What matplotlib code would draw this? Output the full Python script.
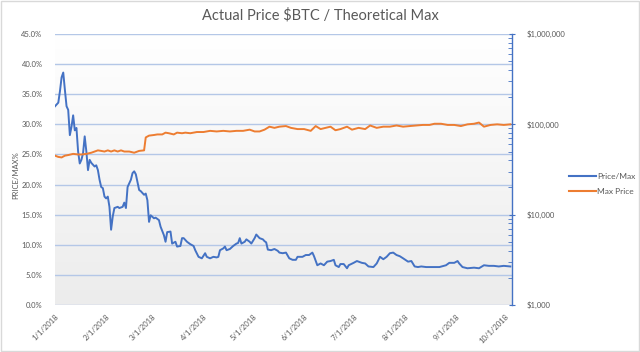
import numpy as np
import matplotlib
matplotlib.use("Agg")
import matplotlib.pyplot as plt
import matplotlib.dates as mdates
from matplotlib.ticker import FuncFormatter, FixedLocator, LogLocator, NullFormatter
from matplotlib.colors import LinearSegmentedColormap
from matplotlib.lines import Line2D

plt.rcParams['font.family'] = ['Lato', 'DejaVu Sans']

# ---- data (day offsets from 2018-01-01) ----
ratio_days = [0, 2, 3, 4, 5, 6, 7, 8, 9, 10, 11, 12, 13, 14, 15, 16, 17, 18, 19, 20, 21, 22, 24, 25, 26, 27,
              28, 29, 30, 31, 32, 33, 34, 35, 36, 38, 39, 41, 42, 43, 44, 46, 47, 48, 49, 51, 52, 54, 55, 56,
              57, 58, 60, 61, 63, 64, 66, 67, 68, 70, 71, 73, 74, 76, 77, 78, 80, 82, 84, 85, 87, 89, 91, 92,
              94, 96, 98, 99, 100, 102, 103, 104, 106, 108, 110, 111, 112, 113, 115, 116, 118, 119, 121, 122,
              124, 126, 127, 128, 129, 131, 133, 135, 136, 138, 140, 142, 144, 146, 147, 150, 152, 154, 156,
              157, 159, 161, 163, 165, 167, 169, 170, 172, 173, 175, 177, 178, 181, 183, 186, 188, 190, 193,
              195, 197, 199, 201, 203, 205, 207, 209, 211, 214, 216, 218, 220, 222, 225, 229, 233, 237, 239,
              242, 244, 245, 247, 250, 254, 257, 260, 263, 266, 269, 272, 276]
ratio_pct = [33.0, 33.6, 35.5, 37.8, 38.6, 35.7, 33.0, 32.4, 28.2, 29.6, 31.5, 29.0, 29.4, 25.5, 23.5, 24.1,
             25.2, 28.0, 25.5, 22.4, 24.1, 23.6, 23.0, 23.2, 22.4, 20.8, 19.6, 19.4, 18.0, 17.7, 18.0, 16.3,
             12.5, 14.7, 16.1, 16.3, 16.1, 16.3, 17.0, 16.1, 19.6, 20.8, 21.9, 22.2, 21.7, 19.1, 18.9, 18.3,
             18.5, 17.4, 13.8, 14.9, 14.4, 14.5, 14.1, 13.0, 11.6, 10.5, 12.1, 12.2, 10.2, 10.5, 9.7, 9.8,
             11.1, 11.1, 10.5, 10.1, 9.8, 9.1, 8.0, 7.75, 8.6, 8.0, 7.75, 8.0, 7.9, 8.0, 9.1, 9.4, 9.7, 9.1,
             9.3, 9.8, 10.2, 10.3, 11.1, 10.2, 10.5, 10.9, 10.5, 10.2, 11.1, 11.7, 11.1, 10.9, 10.6, 10.4,
             9.2, 9.1, 9.3, 9.0, 8.7, 8.6, 8.7, 7.75, 7.5, 7.5, 8.0, 8.0, 8.3, 8.3, 8.7, 8.1, 6.6, 6.9, 6.6,
             7.2, 7.3, 7.5, 6.6, 6.3, 6.8, 6.8, 6.1, 6.6, 7.0, 7.3, 7.0, 6.9, 6.4, 6.3, 6.9, 8.0, 7.6, 8.0,
             8.6, 8.7, 8.3, 8.1, 7.75, 7.2, 7.3, 6.4, 6.3, 6.4, 6.3, 6.3, 6.3, 6.6, 7.0, 7.0, 7.3, 6.9, 6.3,
             6.1, 6.2, 6.1, 6.6, 6.5, 6.5, 6.4, 6.5, 6.4]

max_days = [0, 2, 4, 6, 8, 11, 14, 16, 19, 22, 26, 28, 30, 32, 34, 36, 38, 40, 42, 45, 48, 51, 54, 55, 57,
            60, 62, 65, 67, 69, 72, 74, 77, 79, 82, 86, 90, 94, 98, 102, 106, 110, 114, 118, 121, 124, 127,
            130, 133, 136, 140, 143, 147, 151, 155, 158, 161, 164, 167, 170, 173, 177, 180, 184, 188, 191,
            195, 199, 203, 207, 211, 215, 219, 223, 227, 230, 234, 238, 242, 246, 250, 254, 257, 260, 264,
            268, 272, 276]
max_price = [45000, 43600, 43000, 45000, 45700, 47100, 46400, 46400, 47100, 48500, 51500, 50800, 50000,
             51500, 50000, 51500, 50000, 51500, 50000, 50000, 48500, 50800, 51500, 71600, 75000, 76200,
             77300, 77300, 80900, 79700, 77300, 80900, 79700, 80900, 79700, 82200, 82200, 84700, 83400,
             84700, 83400, 84700, 84700, 87300, 83400, 83400, 87300, 94200, 91400, 94200, 95700, 91400,
             88600, 88600, 84700, 95700, 88600, 91400, 94200, 86000, 88600, 94200, 87300, 91400, 88600,
             97100, 91400, 94200, 94200, 97100, 94200, 95700, 97100, 98500, 98500, 101500, 101500, 98500,
             98500, 95700, 100000, 101500, 104700, 94200, 98500, 100000, 98500, 100000]

month_ticks = ['2018-01-01', '2018-02-01', '2018-03-01', '2018-04-01', '2018-05-01', '2018-06-01',
               '2018-07-01', '2018-08-01', '2018-09-01', '2018-10-01']
left_ticks = [0, 5, 10, 15, 20, 25, 30, 35, 40, 45]
right_ticks = [1e3, 1e4, 1e5, 1e6]

title = "Actual Price $BTC / Theoretical Max"

# ---- build ----
start = np.datetime64('2018-01-01')
r_dates = start + np.array(ratio_days).astype('timedelta64[D]')
m_dates = start + np.array(max_days).astype('timedelta64[D]')

BLUE = '#4472C4'
ORANGE = '#ED7D31'
GRID = '#B4C7E7'
TXT = '#595959'

fig = plt.figure(figsize=(6.4, 3.52), dpi=100)
fig.patch.set_facecolor('white')
ax = fig.add_axes([55/640, 1-305/352, (512-55)/640, (305-34)/352])
ax2 = ax.twinx()

# gradient background
grad = np.linspace(0.0, 1.0, 256).reshape(-1, 1)
cmap = LinearSegmentedColormap.from_list('g', ['#FFFFFF', '#ECECEC'])
ax.imshow(grad, extent=[0, 1, 0, 1], transform=ax.transAxes, cmap=cmap, aspect='auto',
          vmin=0, vmax=1, zorder=0, origin='upper')

ax.plot(r_dates, ratio_pct, color=BLUE, lw=1.4, zorder=3)
ax2.plot(m_dates, max_price, color=ORANGE, lw=1.4, zorder=3)

ax.set_xlim(start, start + np.timedelta64(277, 'D'))
ax.set_ylim(0, 45)
ax2.set_yscale('log')
ax2.set_ylim(1e3, 1e6)

ax.set_yticks(left_ticks)
ax.yaxis.set_major_formatter(FuncFormatter(lambda v, p: f"{v:.1f}%"))
ax.grid(axis='y', color=GRID, lw=1.0, zorder=1)
ax.set_axisbelow(True)
ax.tick_params(axis='y', length=0, pad=9, labelsize=5.5, labelcolor=TXT)

tick_dates = [np.datetime64(d) for d in month_ticks]
ax.set_xticks(mdates.date2num(tick_dates))
ax.set_xticklabels([f"{int(d[5:7])}/{int(d[8:10])}/{d[:4]}" for d in month_ticks],
                   rotation=45, ha='right', rotation_mode='anchor')
ax.tick_params(axis='x', length=0, pad=6, labelsize=5.5, labelcolor=TXT)

for s in ['top', 'left', 'right', 'bottom']:
    ax.spines[s].set_visible(False)
for s in ['top', 'left', 'bottom']:
    ax2.spines[s].set_visible(False)
ax2.spines['right'].set_color(BLUE)
ax2.spines['right'].set_linewidth(1.0)

ax2.yaxis.set_major_locator(FixedLocator(right_ticks))
ax2.yaxis.set_minor_locator(LogLocator(base=10, subs=np.arange(2, 10)))
ax2.yaxis.set_minor_formatter(NullFormatter())
ax2.yaxis.set_major_formatter(FuncFormatter(lambda v, p: f"${v:,.0f}"))
ax2.tick_params(axis='y', which='major', direction='inout', length=5, color=BLUE, pad=8,
                labelsize=5.5, labelcolor=TXT)
ax2.tick_params(axis='y', which='minor', direction='in', length=3, color=BLUE)

ax.set_ylabel('PRICE/MAX%', fontsize=5.5, color=TXT, va='center')
ax.yaxis.set_label_coords((16-55)/457, (305-175.5)/271)

fig.text(320/640, 1-15/352, title, ha='center', va='center', fontsize=10.5, color=TXT)

handles = [Line2D([], [], color=BLUE, lw=1.5), Line2D([], [], color=ORANGE, lw=1.5)]
fig.legend(handles, ['Price/Max', 'Max Price'], loc='upper left', bbox_to_anchor=(566/640, 1-170/352),
           frameon=False, fontsize=6, labelcolor=TXT, handlelength=3.2, handletextpad=0.1,
           labelspacing=0.9, borderaxespad=0)

# figure border
fig.add_artist(plt.Rectangle((0.001, 0.002), 0.997, 0.995, transform=fig.transFigure,
                             fill=False, edgecolor='#D9D9D9', lw=1))

fig.savefig('out.png', dpi=100)
